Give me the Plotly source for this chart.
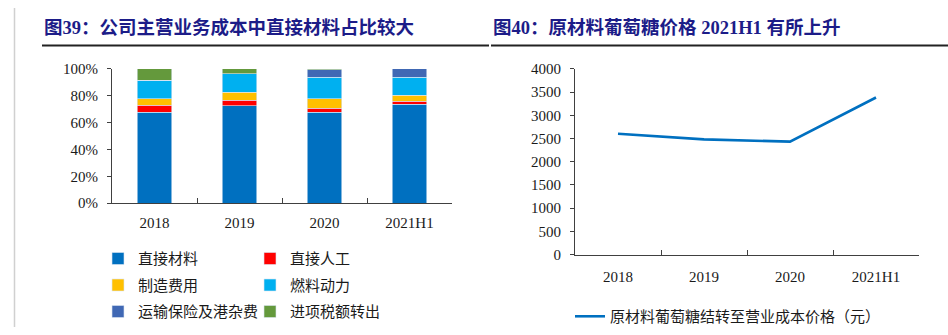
import plotly.graph_objects as go

W, H = 948, 335

# ---- data ----
years = ["2018", "2019", "2020", "2021H1"]
cost_names = ["直接材料", "直接人工", "制造费用", "燃料动力", "运输保险及港杂费", "进项税额转出"]
direct_material = [67.8, 72.6, 67.6, 73.8]
direct_labor = [5.2, 4.0, 3.1, 2.3]
manufacturing = [4.8, 5.9, 7.1, 4.3]
fuel_power = [13.7, 14.0, 16.1, 13.5]
transport = [0.0, 0.0, 5.4, 6.1]
input_tax = [8.5, 3.5, 0.7, 0.0]
cost_series = [direct_material, direct_labor, manufacturing, fuel_power, transport, input_tax]
cost_colors = ["#0070C0", "#FF0000", "#FFC000", "#00B0F0", "#4068B4", "#64993C"]

glucose_name = "原材料葡萄糖结转至营业成本价格（元）"
glucose_price = [2605, 2482, 2434, 3385]

title_left = "图39：公司主营业务成本中直接材料占比较大"
title_right = "图40：原材料葡萄糖价格 2021H1 有所上升"

def px(x):
    return x / W

def py(y):
    return 1 - y / H

SERIF = "Liberation Serif, Times New Roman, Noto Sans CJK SC"
CJK = "Noto Sans CJK SC"

fig = go.Figure()

legend_of = ["legend", "legend2", "legend", "legend2", "legend", "legend2"]
for i, (name, vals, col) in enumerate(zip(cost_names, cost_series, cost_colors)):
    fig.add_trace(go.Bar(
        x=years, y=vals, name=name, marker=dict(color=col, line=dict(width=0.6, color="#DCE6F2")),
        width=0.41, xaxis="x", yaxis="y", legend=legend_of[i], legendgroup=name,
        hoverinfo="skip"))

fig.add_trace(go.Scatter(
    x=years, y=glucose_price, name=glucose_name, mode="lines",
    line=dict(color="#0070C0", width=2.6), xaxis="x2", yaxis="y2",
    legend="legend3"))

axis_common = dict(showline=True, linecolor="#404040", linewidth=1, showgrid=False,
                   zeroline=False, tickfont=dict(family=SERIF, size=15, color="#1a1a1a"),
                   tickcolor="#404040")

fig.update_layout(
    width=W, height=H, margin=dict(l=0, r=0, t=0, b=0),
    paper_bgcolor="white", plot_bgcolor="white", barmode="stack",
    showlegend=True,
    xaxis=dict(domain=[px(112), px(452)], type="category", range=[-0.5, 3.5], ticks="inside",
               ticklen=5, tickson="boundaries", anchor="y", ticklabelstandoff=6, **axis_common),
    yaxis=dict(domain=[py(205), py(64)], range=[0, 100], dtick=20, ticksuffix="%",
               ticks="outside", ticklen=4, anchor="x", ticklabelstandoff=6, **axis_common),
    xaxis2=dict(domain=[px(575), px(919)], type="category", range=[-0.5, 3.5], ticks="inside",
                ticklen=5, tickson="boundaries", anchor="y2", ticklabelstandoff=8, **axis_common),
    yaxis2=dict(domain=[py(259), py(64)], range=[0, 4000], dtick=500,
                ticks="outside", ticklen=4, anchor="x2", ticklabelstandoff=6, **axis_common),
    legend=dict(x=px(98), y=py(246), xanchor="left", yanchor="top", orientation="v",
                traceorder="grouped", tracegroupgap=4, font=dict(family=CJK, size=15, color="#1a1a1a"),
                bgcolor="rgba(0,0,0,0)", itemclick=False),
    legend2=dict(x=px(250), y=py(246), xanchor="left", yanchor="top", orientation="v",
                 traceorder="grouped", tracegroupgap=4, font=dict(family=CJK, size=15, color="#1a1a1a"),
                 bgcolor="rgba(0,0,0,0)", itemclick=False),
    legend3=dict(x=px(570), y=py(324), xanchor="left", yanchor="middle", orientation="v",
                 font=dict(family=CJK, size=15, color="#1a1a1a"), bgcolor="rgba(0,0,0,0)"),
)

for txt, x0 in [(title_left, 42), (title_right, 491)]:
    fig.add_annotation(text="<b>" + txt + "</b>", x=px(x0), y=py(20), xref="paper", yref="paper",
                       xanchor="left", yanchor="middle", showarrow=False,
                       font=dict(family=SERIF, size=18.5, color="#1C1C88"))

fig.add_shape(type="line", xref="paper", yref="paper", x0=px(42), x1=px(489), y0=py(39.5), y1=py(39.5),
              line=dict(color="#222222", width=2))
fig.add_shape(type="line", xref="paper", yref="paper", x0=px(491), x1=1, y0=py(39.5), y1=py(39.5),
              line=dict(color="#222222", width=2))
fig.add_shape(type="line", xref="paper", yref="paper", x0=px(14.5), x1=px(14.5), y0=0, y1=1,
              line=dict(color="#D0D0D0", width=1.5))

fig.write_html("out.html")
